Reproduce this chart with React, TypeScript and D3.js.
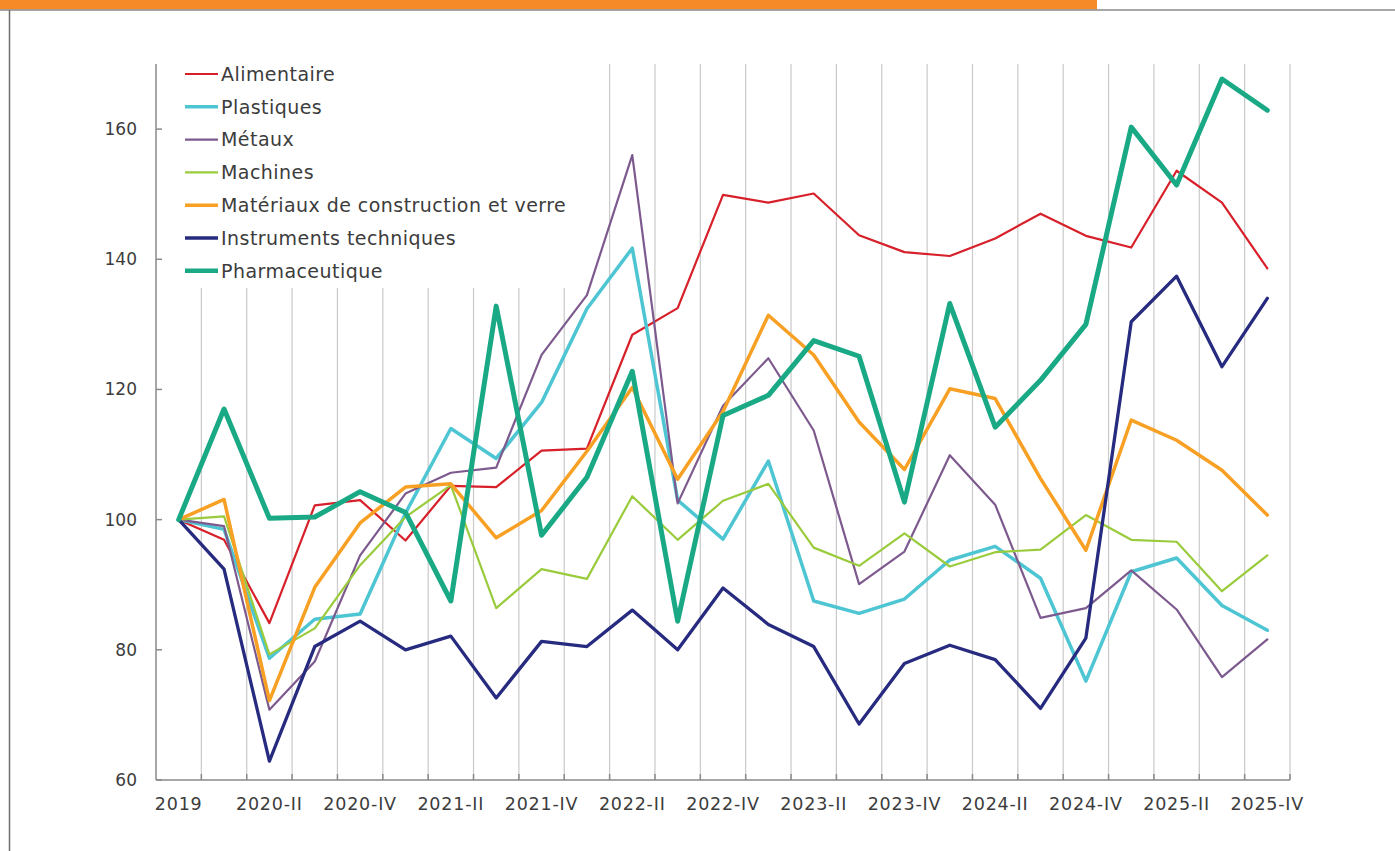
import React, { useEffect, useRef } from 'react'
import * as d3 from 'd3'

// quarters, first point is the 2019 average
const categories = [
  '2019',
  '2020-I', '2020-II', '2020-III', '2020-IV',
  '2021-I', '2021-II', '2021-III', '2021-IV',
  '2022-I', '2022-II', '2022-III', '2022-IV',
  '2023-I', '2023-II', '2023-III', '2023-IV',
  '2024-I', '2024-II', '2024-III', '2024-IV',
  '2025-I', '2025-II', '2025-III', '2025-IV',
]

const tickLabels = [
  '2019', '2020-II', '2020-IV', '2021-II', '2021-IV', '2022-II', '2022-IV',
  '2023-II', '2023-IV', '2024-II', '2024-IV', '2025-II', '2025-IV',
]

const yTicks = [60, 80, 100, 120, 140, 160]

const alimentaire = [
  100, 96.9, 84.1, 102.2, 103, 96.8, 105.2, 105, 110.6, 110.9, 128.4, 132.5,
  149.9, 148.7, 150.1, 143.7, 141.1, 140.5, 143.2, 147, 143.6, 141.8, 153.6, 148.7, 138.6,
]
const plastiques = [
  100, 98.5, 78.7, 84.7, 85.5, 101, 114, 109.4, 118, 132.4, 141.7, 103,
  97, 109, 87.5, 85.6, 87.8, 93.8, 95.9, 91, 75.2, 92, 94.1, 86.8, 83,
]
const metaux = [
  100, 99, 70.8, 78.2, 94.5, 104, 107.2, 108, 125.3, 134.5, 156, 102.5,
  117.5, 124.8, 113.7, 90.1, 95.1, 109.9, 102.3, 84.9, 86.4, 92.2, 86.2, 75.8, 81.6,
]
const machines = [
  100, 100.5, 79.3, 83.3, 93, 100.4, 105.3, 86.4, 92.4, 90.9, 103.6, 96.9,
  102.9, 105.5, 95.7, 92.9, 97.9, 92.8, 95, 95.4, 100.7, 96.9, 96.6, 89, 94.5,
]
const materiaux = [
  100, 103.1, 72.2, 89.6, 99.5, 105, 105.5, 97.2, 101.4, 110.5, 120.3, 106.2,
  116.6, 131.4, 125.3, 115, 107.7, 120.1, 118.6, 106.3, 95.3, 115.3, 112.2, 107.6, 100.7,
]
const instruments = [
  100, 92.4, 62.9, 80.5, 84.4, 80, 82.1, 72.6, 81.3, 80.5, 86.1, 80,
  89.5, 83.9, 80.5, 68.6, 77.9, 80.7, 78.5, 71, 81.8, 130.4, 137.4, 123.5, 134,
]
const pharma = [
  100, 117, 100.2, 100.4, 104.3, 101.1, 87.5, 132.8, 97.6, 106.5, 122.8, 84.4,
  116, 119.1, 127.5, 125.1, 102.7, 133.2, 114.2, 121.4, 130, 160.3, 151.4, 167.7, 162.9,
]

const seriesNames = [
  'Alimentaire',
  'Plastiques',
  'Métaux',
  'Machines',
  'Matériaux de construction et verre',
  'Instruments techniques',
  'Pharmaceutique',
]
const seriesValues = [alimentaire, plastiques, metaux, machines, materiaux, instruments, pharma]
const seriesColors = ['#d7202a', '#4ec5d2', '#7d5a8e', '#9acb3c', '#f8a023', '#272b7f', '#1aa985']
const seriesWidths = [2.2, 3.5, 2.2, 2.2, 3.5, 3.3, 5]

const FONT = '"DejaVu Sans", sans-serif'

export default function App() {
  const ref = useRef<SVGSVGElement>(null)

  useEffect(() => {
    const W = 1395
    const H = 851
    const left = 156
    const right = 1290
    const top = 64
    const bottom = 780

    const svg = d3.select(ref.current)
    svg.selectAll('*').remove()

    svg.append('rect').attr('width', W).attr('height', H).attr('fill', '#fff')

    /* frame */
    svg.append('rect').attr('x', 0).attr('y', 0).attr('width', 1097).attr('height', 9.5).attr('fill', '#f68a26')
    svg.append('line').attr('x1', 0).attr('x2', W).attr('y1', 10).attr('y2', 10)
      .attr('stroke', '#8a8a8a').attr('stroke-width', 1.5)
    svg.append('line').attr('x1', 9.5).attr('x2', 9.5).attr('y1', 10).attr('y2', H)
      .attr('stroke', '#6e6e6e').attr('stroke-width', 1.5)

    const x = d3.scaleBand<string>().domain(categories).range([left, right]).padding(0)
    const cx = (c: string) => (x(c) as number) + x.bandwidth() / 2
    const y = d3.scaleLinear().domain([60, 170]).range([bottom, top])

    /* vertical gridlines at band boundaries */
    const bounds = categories.slice(1).map((c) => x(c) as number).concat([right])
    svg.append('g')
      .selectAll('line')
      .data(bounds)
      .enter()
      .append('line')
      .attr('x1', (d) => d)
      .attr('x2', (d) => d)
      .attr('y1', top)
      .attr('y2', bottom)
      .attr('stroke', '#c9c9c9')
      .attr('stroke-width', 1.2)

    /* axes */
    svg.append('g')
      .selectAll('line')
      .data(bounds)
      .enter()
      .append('line')
      .attr('x1', (d) => d)
      .attr('x2', (d) => d)
      .attr('y1', bottom - 6)
      .attr('y2', bottom)
      .attr('stroke', '#8a8a8a')
      .attr('stroke-width', 1.5)

    svg.append('line').attr('x1', left).attr('x2', left).attr('y1', top).attr('y2', bottom)
      .attr('stroke', '#8a8a8a').attr('stroke-width', 1.5)
    svg.append('line').attr('x1', left).attr('x2', right).attr('y1', bottom).attr('y2', bottom)
      .attr('stroke', '#8a8a8a').attr('stroke-width', 1.5)

    const yAxis = svg.append('g')
    yAxis.selectAll('line')
      .data(yTicks)
      .enter()
      .append('line')
      .attr('x1', left)
      .attr('x2', left + 6)
      .attr('y1', (d) => y(d))
      .attr('y2', (d) => y(d))
      .attr('stroke', '#8a8a8a')
      .attr('stroke-width', 1.5)
    yAxis.selectAll('text')
      .data(yTicks)
      .enter()
      .append('text')
      .attr('x', 137)
      .attr('y', (d) => y(d))
      .attr('dy', '0.35em')
      .attr('text-anchor', 'end')
      .attr('font-family', FONT)
      .attr('font-size', 17)
      .attr('fill', '#3c3c3c')
      .text((d) => d)

    svg.append('g')
      .selectAll('text')
      .data(tickLabels)
      .enter()
      .append('text')
      .attr('x', (d) => cx(d))
      .attr('y', 810)
      .attr('text-anchor', 'middle')
      .attr('font-family', FONT)
      .attr('font-size', 17.5)
      .attr('letter-spacing', 0.8)
      .attr('fill', '#3c3c3c')
      .text((d) => d)

    /* legend box hides the gridlines behind it */
    const legend = svg.append('g')
    legend.append('rect').attr('x', 176).attr('y', 60).attr('width', 400).attr('height', 228).attr('fill', '#fff')
    seriesNames.forEach((name, i) => {
      const ly = 74 + i * 32.8
      legend.append('line')
        .attr('x1', 185).attr('x2', 218).attr('y1', ly).attr('y2', ly)
        .attr('stroke', seriesColors[i])
        .attr('stroke-width', Math.min(seriesWidths[i], 4.5))
      legend.append('text')
        .attr('x', 221)
        .attr('y', ly)
        .attr('dy', '0.36em')
        .attr('font-family', FONT)
        .attr('font-size', 19)
        .attr('letter-spacing', 0.45)
        .attr('fill', '#3c3c3c')
        .text(name)
    })

    /* lines */
    const line = d3.line<number>()
      .x((_, i) => cx(categories[i]))
      .y((d) => y(d))

    svg.append('g')
      .selectAll('path')
      .data(seriesValues)
      .enter()
      .append('path')
      .attr('d', (d) => line(d))
      .attr('fill', 'none')
      .attr('stroke', (_, i) => seriesColors[i])
      .attr('stroke-width', (_, i) => seriesWidths[i])
      .attr('stroke-linejoin', 'round')
      .attr('stroke-linecap', 'round')
  }, [])

  return (
    <svg
      ref={ref}
      width={1395}
      height={851}
      style={{ position: 'absolute', left: 0, top: 0, display: 'block' }}
    />
  )
}
